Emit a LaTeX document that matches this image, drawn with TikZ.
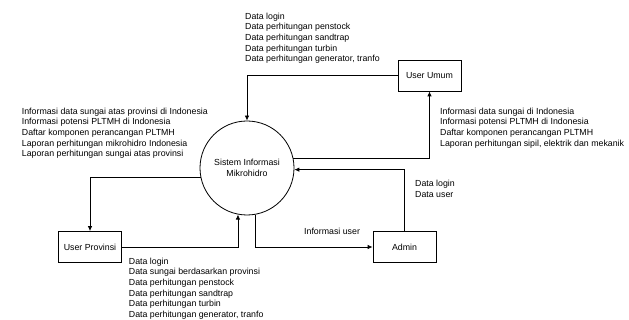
\documentclass[tikz,border=0pt]{standalone}
\usepackage{fontspec}
\setmainfont{Liberation Sans}
\usetikzlibrary{arrows.meta}
\begin{document}
\begin{tikzpicture}[x=1pt,y=-1pt,
  every node/.style={font=\fontsize{8.8}{10.6}\selectfont},
  entity/.style={draw,line width=0.8pt,minimum width=63pt,minimum height=31pt,inner sep=0pt},
  proc/.style={draw,line width=0.8pt,circle,minimum size=94pt,inner sep=0pt,align=center,
    font=\fontsize{8.8}{11}\selectfont},
  flow/.style={line width=0.8pt,-{Latex[length=5pt,width=4.5pt]}},
  lbl/.style={anchor=north west,inner sep=0pt,align=left}]
\useasboundingbox (0,0) rectangle (629,320);

% process and external entities
\node[proc] (c) at (247,168) {Sistem Informasi\\Mikrohidro};
\node[entity] (uu) at (429.5,75.5) {User Umum};
\node[entity] (up) at (90,247) {User Provinsi};
\node[entity] (ad) at (404.5,247) {Admin};

% data flows
\draw[flow] (uu.west) -| (c.north);
\draw[flow] (c.12.3) -| (uu.south);
\draw[flow] (ad.north) |- (c.-2.4);
\draw[flow] (c.-80.2) |- (ad.west);
\draw[flow] (up.east) -| (c.-101);
\draw[flow] (c.192.3) -| (up.north);

% flow labels
\node[lbl] (t1) at (245,12.8) {Data login\\Data perhitungan penstock\\Data perhitungan sandtrap\\Data perhitungan turbin\\Data perhitungan generator, tranfo};
\node[lbl] (t2) at (21.7,107.8) {Informasi data sungai atas provinsi di Indonesia\\Informasi potensi PLTMH di Indonesia\\Daftar komponen perancangan PLTMH\\Laporan perhitungan mikrohidro Indonesia\\Laporan perhitungan sungai atas provinsi};
\node[lbl] (t3) at (440,107.8) {Informasi data sungai di Indonesia\\Informasi potensi PLTMH di Indonesia\\Daftar komponen perancangan PLTMH\\Laporan perhitungan sipil, elektrik dan mekanik};
\node[lbl] (t4) at (415,180) {Data login\\Data user};
\node[lbl] (t5) at (304,227.5) {Informasi user};
\node[lbl] (t6) at (128.7,257.8) {Data login\\Data sungai berdasarkan provinsi\\Data perhitungan penstock\\Data perhitungan sandtrap\\Data perhitungan turbin\\Data perhitungan generator, tranfo};
\end{tikzpicture}
\end{document}
